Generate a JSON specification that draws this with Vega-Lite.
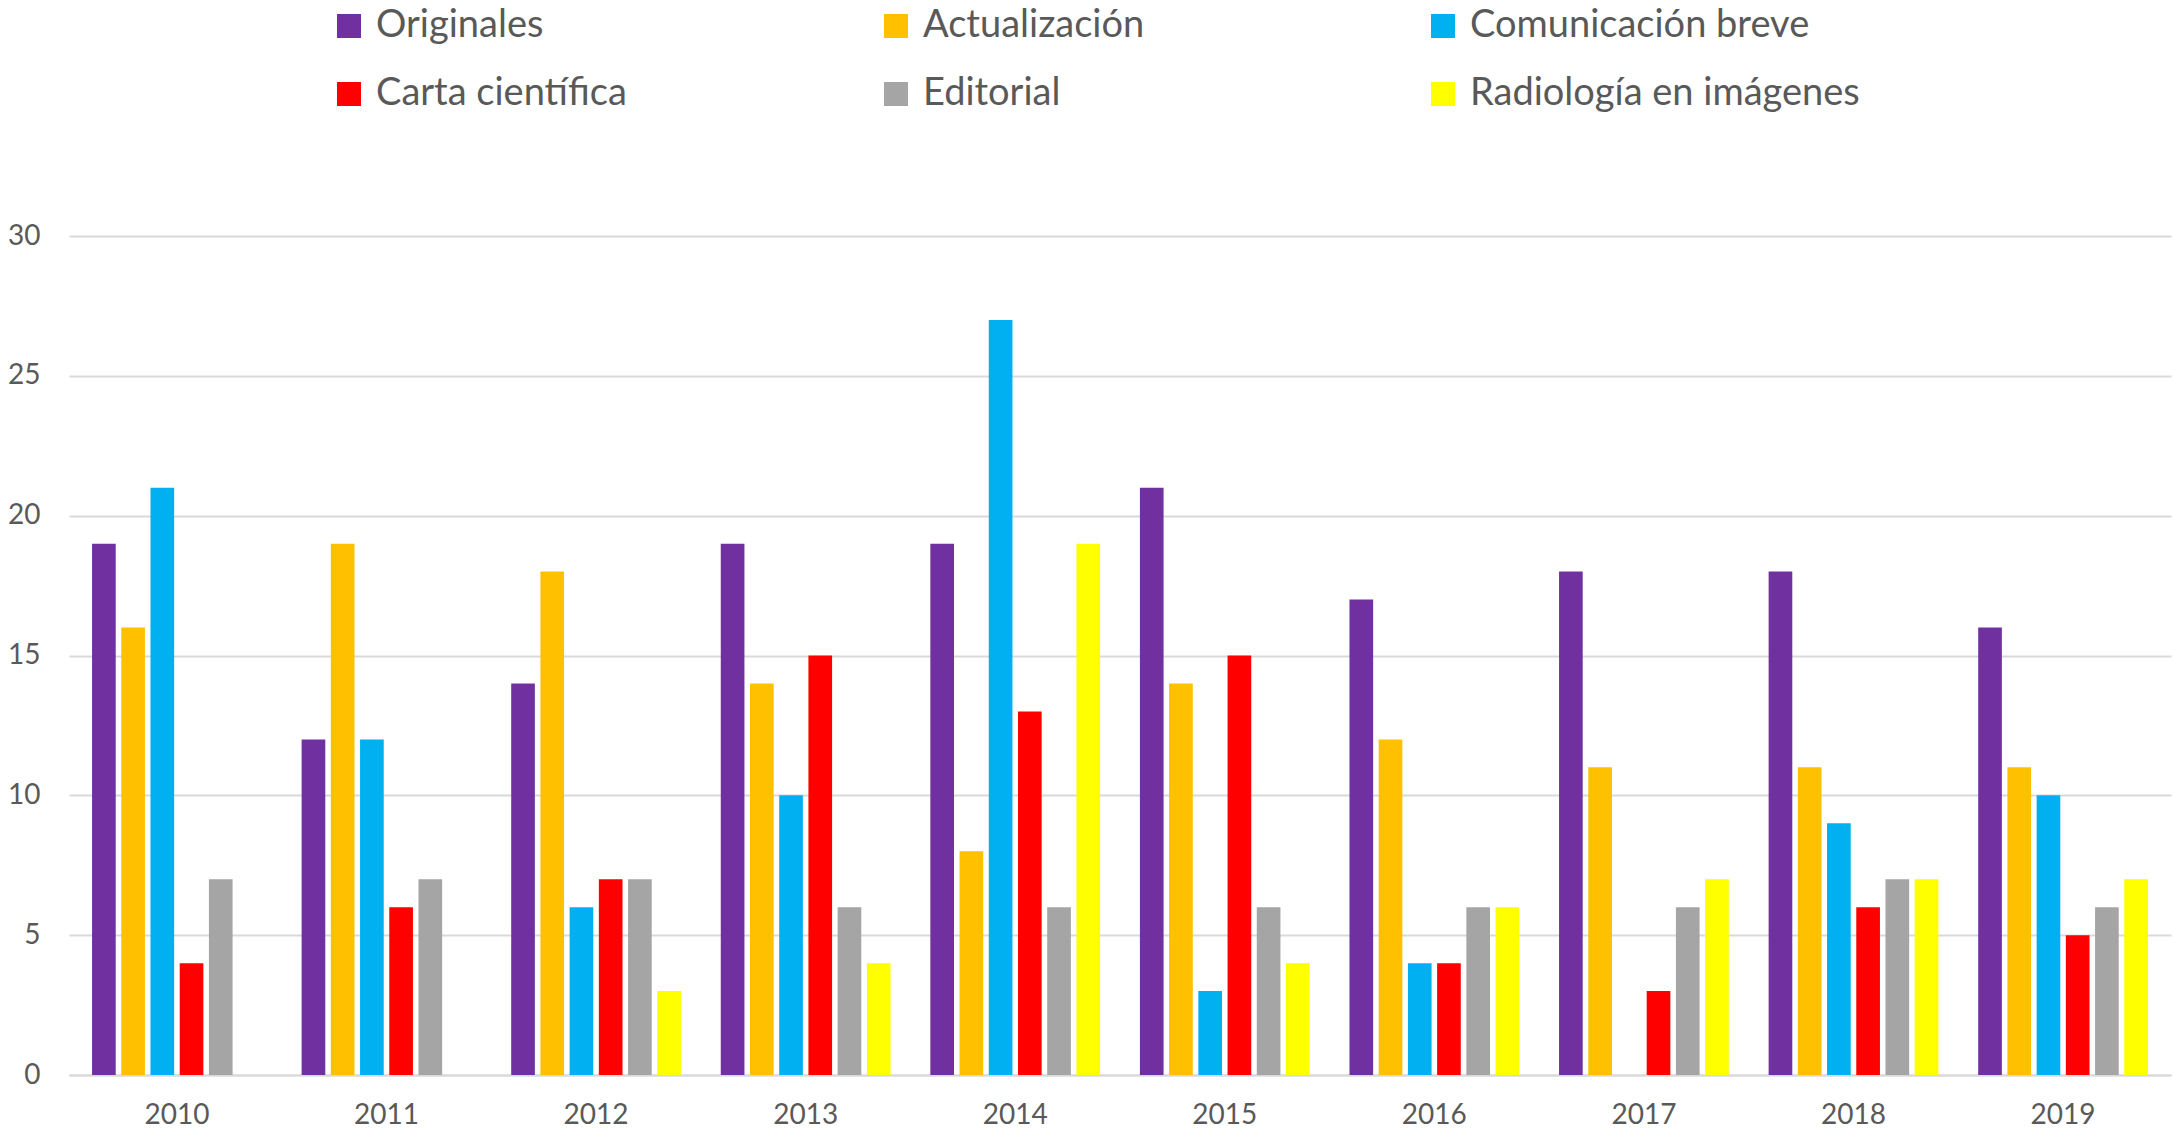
{
  "$schema": "https://vega.github.io/schema/vega-lite/v6.json",
  "width": 2102,
  "height": 839,
  "autosize": "none",
  "padding": {"left": 69, "top": 236, "right": 4, "bottom": 59},
  "background": "white",
  "config": {
    "font": "Lato",
    "view": {"stroke": null},
    "axis": {"labelColor": "#595959", "labelFont": "Lato", "titleColor": "#595959"}
  },
  "data": {
    "values": [
      {"year": "2010", "tipo": "Originales", "n": 19},
      {"year": "2010", "tipo": "Actualización", "n": 16},
      {"year": "2010", "tipo": "Comunicación breve", "n": 21},
      {"year": "2010", "tipo": "Carta científica", "n": 4},
      {"year": "2010", "tipo": "Editorial", "n": 7},
      {"year": "2011", "tipo": "Originales", "n": 12},
      {"year": "2011", "tipo": "Actualización", "n": 19},
      {"year": "2011", "tipo": "Comunicación breve", "n": 12},
      {"year": "2011", "tipo": "Carta científica", "n": 6},
      {"year": "2011", "tipo": "Editorial", "n": 7},
      {"year": "2012", "tipo": "Originales", "n": 14},
      {"year": "2012", "tipo": "Actualización", "n": 18},
      {"year": "2012", "tipo": "Comunicación breve", "n": 6},
      {"year": "2012", "tipo": "Carta científica", "n": 7},
      {"year": "2012", "tipo": "Editorial", "n": 7},
      {"year": "2012", "tipo": "Radiología en imágenes", "n": 3},
      {"year": "2013", "tipo": "Originales", "n": 19},
      {"year": "2013", "tipo": "Actualización", "n": 14},
      {"year": "2013", "tipo": "Comunicación breve", "n": 10},
      {"year": "2013", "tipo": "Carta científica", "n": 15},
      {"year": "2013", "tipo": "Editorial", "n": 6},
      {"year": "2013", "tipo": "Radiología en imágenes", "n": 4},
      {"year": "2014", "tipo": "Originales", "n": 19},
      {"year": "2014", "tipo": "Actualización", "n": 8},
      {"year": "2014", "tipo": "Comunicación breve", "n": 27},
      {"year": "2014", "tipo": "Carta científica", "n": 13},
      {"year": "2014", "tipo": "Editorial", "n": 6},
      {"year": "2014", "tipo": "Radiología en imágenes", "n": 19},
      {"year": "2015", "tipo": "Originales", "n": 21},
      {"year": "2015", "tipo": "Actualización", "n": 14},
      {"year": "2015", "tipo": "Comunicación breve", "n": 3},
      {"year": "2015", "tipo": "Carta científica", "n": 15},
      {"year": "2015", "tipo": "Editorial", "n": 6},
      {"year": "2015", "tipo": "Radiología en imágenes", "n": 4},
      {"year": "2016", "tipo": "Originales", "n": 17},
      {"year": "2016", "tipo": "Actualización", "n": 12},
      {"year": "2016", "tipo": "Comunicación breve", "n": 4},
      {"year": "2016", "tipo": "Carta científica", "n": 4},
      {"year": "2016", "tipo": "Editorial", "n": 6},
      {"year": "2016", "tipo": "Radiología en imágenes", "n": 6},
      {"year": "2017", "tipo": "Originales", "n": 18},
      {"year": "2017", "tipo": "Actualización", "n": 11},
      {"year": "2017", "tipo": "Carta científica", "n": 3},
      {"year": "2017", "tipo": "Editorial", "n": 6},
      {"year": "2017", "tipo": "Radiología en imágenes", "n": 7},
      {"year": "2018", "tipo": "Originales", "n": 18},
      {"year": "2018", "tipo": "Actualización", "n": 11},
      {"year": "2018", "tipo": "Comunicación breve", "n": 9},
      {"year": "2018", "tipo": "Carta científica", "n": 6},
      {"year": "2018", "tipo": "Editorial", "n": 7},
      {"year": "2018", "tipo": "Radiología en imágenes", "n": 7},
      {"year": "2019", "tipo": "Originales", "n": 16},
      {"year": "2019", "tipo": "Actualización", "n": 11},
      {"year": "2019", "tipo": "Comunicación breve", "n": 10},
      {"year": "2019", "tipo": "Carta científica", "n": 5},
      {"year": "2019", "tipo": "Editorial", "n": 6},
      {"year": "2019", "tipo": "Radiología en imágenes", "n": 7}
    ]
  },
  "mark": {"type": "bar"},
  "encoding": {
    "x": {
      "field": "year",
      "type": "nominal",
      "title": null,
      "scale": {"paddingInner": 0.19, "paddingOuter": 0.11},
      "axis": {
        "labelAngle": 0,
        "labelFontSize": 28,
        "labelPadding": 26,
        "ticks": false,
        "domainColor": "#d9d9d9",
        "domainWidth": 2
      }
    },
    "xOffset": {
      "field": "tipo",
      "type": "nominal",
      "scale": {
        "domain": ["Originales", "Actualización", "Comunicación breve", "Carta científica", "Editorial", "Radiología en imágenes"],
        "paddingInner": 0.19
      }
    },
    "y": {
      "field": "n",
      "type": "quantitative",
      "title": null,
      "scale": {"domain": [0, 30], "nice": false},
      "axis": {
        "values": [0, 5, 10, 15, 20, 25, 30],
        "labelFontSize": 28,
        "labelPadding": 29,
        "ticks": false,
        "domain": false,
        "gridColor": "#d9d9d9",
        "gridWidth": 2
      }
    },
    "color": {
      "field": "tipo",
      "type": "nominal",
      "scale": {
        "domain": ["Originales", "Actualización", "Comunicación breve", "Carta científica", "Editorial", "Radiología en imágenes"],
        "range": ["#7030A0", "#FFC000", "#00B0F0", "#FF0000", "#A5A5A5", "#FFFF00"]
      },
      "legend": {
        "title": null,
        "orient": "none",
        "legendX": 261,
        "legendY": -229,
        "direction": "horizontal",
        "columns": 3,
        "gridAlign": "all",
        "columnPadding": 111,
        "rowPadding": 30,
        "symbolType": "square",
        "symbolSize": 576,
        "symbolStrokeWidth": 0,
        "labelFontSize": 38,
        "labelColor": "#595959",
        "labelOffset": 8,
        "labelLimit": 700
      }
    }
  }
}
